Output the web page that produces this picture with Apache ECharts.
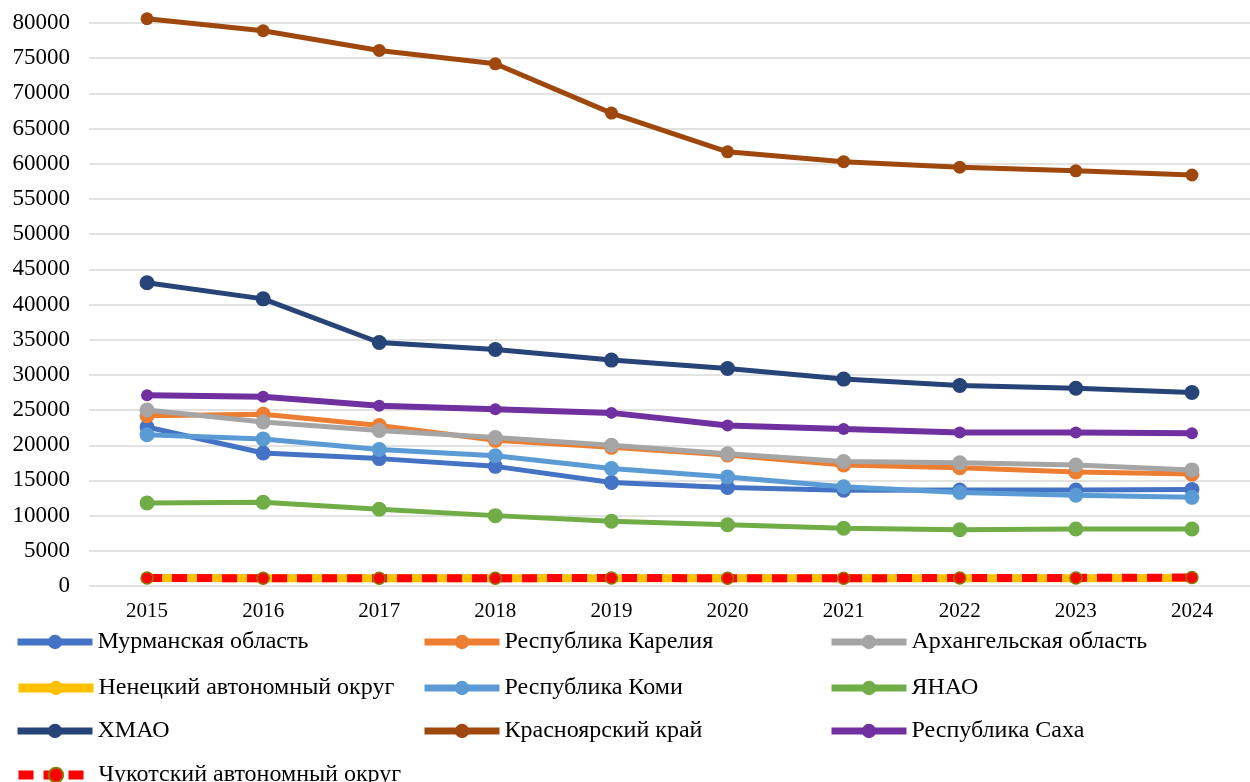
<!DOCTYPE html>
<html><head><meta charset="utf-8">
<script src="https://cdn.jsdelivr.net/npm/echarts@6/dist/echarts.min.js"></script>
<style>html,body{margin:0;padding:0;background:#fff}#c{width:1250px;height:782px}</style>
</head><body><div id="c"></div>
<script>
const years = ['2015','2016','2017','2018','2019','2020','2021','2022','2023','2024'];
const murmansk = [22600,18900,18100,17000,14700,14000,13600,13650,13650,13700];
const karelia = [24200,24400,22800,20700,19700,18600,17200,16800,16200,15900];
const arkhangelsk = [25000,23300,22100,21100,20000,18800,17700,17500,17200,16500];
const nenets = [1150,1100,1100,1100,1100,1100,1100,1100,1100,1150];
const komi = [21500,20900,19400,18500,16700,15500,14100,13300,12900,12600];
const yanao = [11800,11900,10900,10000,9200,8700,8200,8000,8100,8100];
const khmao = [43100,40800,34600,33600,32100,30900,29400,28500,28100,27500];
const krasnoyarsk = [80600,78900,76100,74200,67200,61700,60300,59500,59000,58400];
const sakha = [27100,26900,25600,25100,24600,22800,22300,21800,21800,21700];
const chukotka = [1150,1100,1100,1100,1150,1100,1100,1150,1150,1200];

const names = ['Мурманская область','Республика Карелия','Архангельская область','Ненецкий автономный округ','Республика Коми','ЯНАО','ХМАО','Красноярский край','Республика Саха','Чукотский автономный округ'];
const datas = [murmansk,karelia,arkhangelsk,nenets,komi,yanao,khmao,krasnoyarsk,sakha,chukotka];
const colors = ['#4472C4','#ED7D31','#A5A5A5','#FFC000','#5B9BD5','#70AD47','#264478','#9E480E','#7030A0','#FF0000'];

const series = names.map((n,i)=>{
  const s = {name:n,type:'line',data:datas[i],symbol:'circle',symbolSize:15,clip:false,
    lineStyle:{width:5,color:colors[i]},itemStyle:{color:colors[i]},z:2+i,animation:false};
  if(i===3){ s.lineStyle.width=8; s.symbolSize=12; }
  if(i===7){ s.symbolSize=13; }
  if(i===8){ s.symbolSize=12; s.lineStyle.width=6; }
  if(i===9){ s.lineStyle={width:8,color:'#FF0000',type:[15,10]}; s.symbolSize=12;
    s.itemStyle={color:'#FF0000',borderColor:'#8C7A00',borderWidth:1.5}; }
  return s;
});

const font = 'Liberation Serif';
const colX = [14,421,828];
const rowY = [643,689,732,776];
const legends = names.map((n,i)=>{
  const col = i===9 ? 0 : i%3;
  const row = i===9 ? 3 : Math.floor(i/3);
  return {data:[n],left:colX[col],top:rowY[row]-13,padding:0,itemWidth:75,itemHeight:18,itemGap:0,itemTextGap:3,
    lineStyle:{width:i===3||i===9?9:7},
    textStyle:{fontFamily:font,fontSize:24,color:'#000'}};
});

const chart = echarts.init(document.getElementById('c'));
chart.setOption({
  animation:false,
  grid:{left:89,top:23,width:1183,bottom:196,containLabel:false},
  xAxis:{type:'category',data:years,boundaryGap:true,
    axisLine:{show:false},axisTick:{show:false},
    axisLabel:{fontFamily:font,fontSize:21,color:'#000',margin:15}},
  yAxis:{type:'value',min:0,max:80000,interval:5000,
    axisLine:{show:false},axisTick:{show:false},
    axisLabel:{fontFamily:font,fontSize:23,color:'#000',margin:19,formatter:v=>String(v)},
    splitLine:{lineStyle:{color:'#D9D9D9',width:1.5}}},
  legend:legends,
  series:series
});
</script></body></html>
